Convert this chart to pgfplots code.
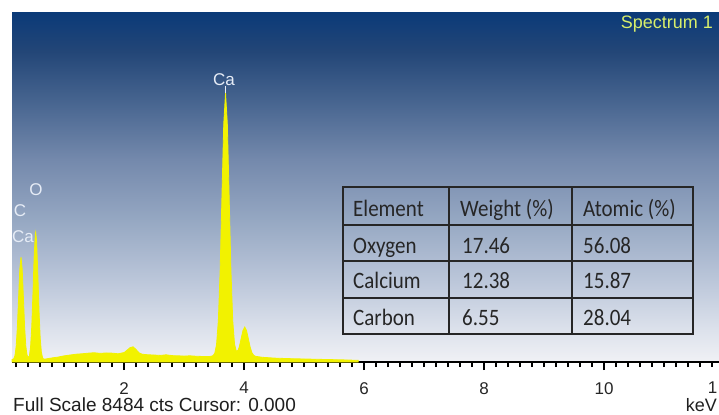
\documentclass[border=0pt]{standalone}
\usepackage{pgfplots}
\pgfplotsset{compat=1.18}
\usepackage{fontspec}
\setmainfont{Liberation Sans}
\newfontfamily\calfont{Carlito}
\definecolor{c0}{HTML}{F0F1F5}
\definecolor{c1}{HTML}{DDE2EC}
\definecolor{c2}{HTML}{BCC7DA}
\definecolor{c3}{HTML}{95A7C2}
\definecolor{c4}{HTML}{7489AC}
\definecolor{c5}{HTML}{46648F}
\definecolor{c6}{HTML}{234677}
\definecolor{c7}{HTML}{0B3A78}
\definecolor{specyellow}{RGB}{242,242,0}
\definecolor{labelc}{HTML}{E6ECF6}
\definecolor{spectxt}{HTML}{D8EE6A}
\definecolor{tabtxt}{HTML}{262626}
\pgfdeclareverticalshading{bgsh}{100bp}{color(0bp)=(c0); color(25bp)=(c0); color(29.5bp)=(c1); color(36.5bp)=(c2); color(45.5bp)=(c3); color(54bp)=(c4); color(62.5bp)=(c5); color(69.5bp)=(c6); color(75bp)=(c7); color(100bp)=(c7)}
\begin{document}
\begin{tikzpicture}[x=1bp,y=1bp]
\path[use as bounding box, fill=white] (0,0) rectangle (719,414);
\shade[shading=bgsh] (12,52) rectangle (719,401);
\begin{axis}[
  at={(12bp,52bp)}, anchor=south west,
  scale only axis, width=707bp, height=349bp,
  xmin=0.13, xmax=11.917, ymin=0, ymax=8484,
  axis x line*=bottom, axis y line=none,
  x axis line style={-, line width=1.3bp, black},
  xtick={2,4,6,8,10,12},
  minor xtick={0.2,0.4,0.6,0.8,1,1.2,1.4,1.6,1.8,2.2,2.4,2.6,2.8,3,3.2,3.4,3.6,3.8,4.2,4.4,4.6,4.8,5,5.2,5.4,5.6,5.8,6.2,6.4,6.6,6.8,7,7.2,7.4,7.6,7.8,8.2,8.4,8.6,8.8,9,9.2,9.4,9.6,9.8,10.2,10.4,10.6,10.8,11,11.2,11.4,11.6,11.8},
  ytick=\empty,
  tick align=outside,
  major tick length=8bp, minor tick length=5bp,
  tick style={black, line width=1.6bp},
  xticklabel style={font=\fontsize{17bp}{17bp}\selectfont, text=black!85, inner sep=0pt, yshift=-12bp},
  /pgf/number format/assume math mode=true,
  clip=false,
]
\addplot[draw=specyellow, fill=specyellow, line width=0.8bp] coordinates {
(0.13,60) (0.16,78) (0.18,160) (0.20,388) (0.22,863) (0.24,1568) (0.26,2255) (0.28,2550)
(0.30,2255) (0.32,1568) (0.34,863) (0.36,390) (0.38,175) (0.40,105) (0.42,150) (0.44,372)
(0.46,878) (0.48,1696) (0.50,2601) (0.52,3126) (0.525,3160) (0.54,2939) (0.56,2164) (0.58,1256)
(0.60,583) (0.62,236) (0.64,100) (0.66,70) (0.70,75) (0.8,100) (0.9,120) (1.0,150) (1.1,170)
(1.2,190) (1.3,200) (1.4,215) (1.5,225) (1.6,210) (1.7,220) (1.8,215) (1.9,200) (2.0,230)
(2.05,290) (2.1,350) (2.15,370) (2.2,300) (2.25,220) (2.3,190) (2.4,175) (2.5,170) (2.6,160)
(2.7,175) (2.8,155) (2.9,150) (3.0,145) (3.1,150) (3.2,140) (3.3,135) (3.4,130) (3.45,140)
(3.48,154) (3.51,210) (3.54,422) (3.57,1004) (3.60,2220) (3.63,4025) (3.66,5785) (3.69,6540)
(3.72,5785) (3.75,4025) (3.78,2220) (3.81,1004) (3.84,435) (3.87,258) (3.90,289) (3.92,369)
(3.95,567) (3.98,765) (4.01,850) (4.04,765) (4.07,567) (4.10,364) (4.13,227) (4.16,162)
(4.19,138) (4.3,115) (4.5,95) (4.8,80) (5.1,70) (5.4,60) (5.7,50) (5.9,40)
} \closedcycle;
\draw[labelc, line width=0.8bp] (axis cs:3.69,6540) -- (axis cs:3.69,6700);
\end{axis}
% peak labels
\begin{scope}[every node/.style={inner sep=0pt, text=labelc, font=\fontsize{17bp}{17bp}\selectfont}]
\node at (224,334) {Ca};
\node at (36,224) {O};
\node at (20,203) {C};
\node at (23,177) {Ca};
\end{scope}
\node[anchor=east, inner sep=0pt, text=spectxt, font=\fontsize{18bp}{18bp}\selectfont] at (713,389.5) {Spectrum 1};
% tick label 12, cut at the right edge in the original
\node[anchor=east, inner sep=0pt, text=black!85, font=\fontsize{17bp}{17bp}\selectfont] at (717.5,26) {1};
% bottom texts
\node[anchor=base west, inner sep=0pt, text=black!88, font=\fontsize{19bp}{19bp}\selectfont] at (13,3) {Full Scale 8484 cts Cursor: 0.000};
\node[anchor=base east, inner sep=0pt, text=black!88, font=\fontsize{18bp}{18bp}\selectfont] at (717,3) {keV};
% table
\begin{scope}[line width=1.6bp]
\draw[tabtxt] (343,80) rectangle (693,227);
\draw[tabtxt] (343,189) -- (693,189);
\draw[tabtxt] (343,153) -- (693,153);
\draw[tabtxt] (343,116) -- (693,116);
\draw[tabtxt] (449,80) -- (449,227);
\draw[tabtxt] (572,80) -- (572,227);
\end{scope}
\begin{scope}[every node/.style={anchor=base west, inner sep=0pt, text=tabtxt, font=\calfont\fontsize{21bp}{21bp}\selectfont}]
\node at (353,198) {\scalebox{1}[1.12]{Element}};
\node at (460,198) {\scalebox{1}[1.12]{Weight (\%)}};
\node at (583,198) {\scalebox{1}[1.12]{Atomic (\%)}};
\node at (353,161) {\scalebox{1}[1.12]{Oxygen}};
\node at (462,161) {\scalebox{1}[1.12]{17.46}};
\node at (583,161) {\scalebox{1}[1.12]{56.08}};
\node at (353,125.5) {\scalebox{1}[1.12]{Calcium}};
\node at (462,125.5) {\scalebox{1}[1.12]{12.38}};
\node at (583,125.5) {\scalebox{1}[1.12]{15.87}};
\node at (353,89) {\scalebox{1}[1.12]{Carbon}};
\node at (462,89) {\scalebox{1}[1.12]{6.55}};
\node at (583,89) {\scalebox{1}[1.12]{28.04}};
\end{scope}
\end{tikzpicture}
\end{document}
